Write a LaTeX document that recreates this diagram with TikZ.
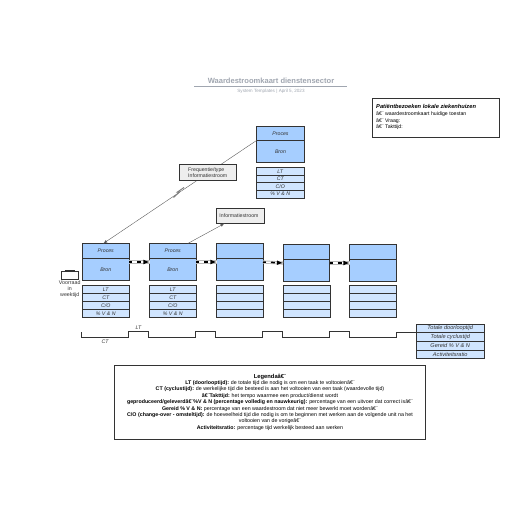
\documentclass[tikz,border=0pt]{standalone}
\usepackage{fontspec}
\setmainfont{Liberation Sans}
\usetikzlibrary{arrows,calc}
\definecolor{BoxClr}{RGB}{166, 206, 255}
\definecolor{RowClr}{RGB}{208, 229, 255}
\definecolor{EdgeClr}{RGB}{51, 51, 51}
\definecolor{InfoClr}{RGB}{238, 238, 238}
\definecolor{TitleClr}{RGB}{160, 166, 176}
\tikzset{
  boxbase/.style={draw=EdgeClr,line width=.8pt,inner sep=0pt,outer sep=0pt,anchor=north west,font=\fontsize{5.2}{6}\selectfont\itshape,text=EdgeClr},
  prochead/.style={boxbase,fill=BoxClr,minimum width=46.5pt,minimum height=15pt},
  procbron/.style={boxbase,fill=BoxClr,minimum width=46.5pt,minimum height=21.5pt},
  datarow/.style={boxbase,fill=RowClr,minimum width=46.5pt,minimum height=8pt},
  sumrow/.style={boxbase,fill=RowClr,minimum width=68.5pt,minimum height=8.7pt,font=\fontsize{5.6}{6}\selectfont\itshape},
  infobox/.style={boxbase,fill=InfoClr,align=left,font=\fontsize{5.2}{6.2}\selectfont},
  flowline/.style={draw=EdgeClr!80,line width=.4pt,-latex},
  pushline/.style={draw=gray!55,line width=3.2pt,
    postaction={draw=white,line width=1.4pt},
    postaction={draw=black,line width=1.5pt,dash pattern=on 3pt off 5pt on 4pt off 100pt},
    postaction={draw=black,line width=1.1pt,dash pattern=on 0pt off 15pt on 6pt,-latex}},
}
\begin{document}
\begin{tikzpicture}[x=1pt,y=-1pt]
\useasboundingbox (0,0) rectangle (516,516);

\node[font=\fontsize{7.55}{8}\selectfont\bfseries,text=TitleClr] (title) at (271,81) {Waardestroomkaart dienstensector};
\coordinate (ruleL) at (194,86.5);
\coordinate (ruleR) at (347,86.5);
\draw[color=TitleClr,line width=.5pt] (ruleL) -- (ruleR);
\node[font=\fontsize{4.6}{5}\selectfont,text=TitleClr] (sub) at (271,91) {System Templates \textbar{} April 5, 2023};

\node[draw=EdgeClr,line width=.7pt,anchor=north west,outer sep=0pt,minimum width=127pt,minimum height=39pt,inner sep=0pt] (note) at (372,98.5) {};
\node[anchor=north west,align=left,inner sep=0pt,font=\fontsize{5.2}{6.6}\selectfont] (notetext) at (376,104.5) {\textbf{\textit{\fontsize{5.7}{6.6}\selectfont Patiëntbezoeken lokale ziekenhuizen}}\\â€¨ waardestroomkaart huidige toestan\\â€¨ Vraag:\\â€¨ Takttijd:};

\node[prochead,minimum width=48pt,minimum height=14pt] (topHead) at (256.5,126.5) {Proces};
\node[procbron,minimum width=48pt,minimum height=22pt] (topBron) at (256.5,140.5) {Bron};
\node[datarow,minimum width=47.5pt,minimum height=8pt] (topLT) at (256.5,167.5) {LT};
\node[datarow,minimum width=47.5pt,minimum height=7pt] (topCT) at (256.5,175.5) {CT};
\node[datarow,minimum width=47.5pt,minimum height=7.5pt] (topCO) at (256.5,182.5) {C/O};
\node[datarow,minimum width=47.5pt,minimum height=8pt] (topVN) at (256.5,190) {\% V \& N};

\foreach \nm/\xx/\yy/\hd/\br in {p1/82.5/243.5/Proces/Bron,p2/149.5/243.5/Proces/Bron,p3/216.5/243.5//,p4/283/244.5//,p5/349.5/244.5//}{
  \node[prochead] (\nm head) at (\xx,\yy) {\hd};
  \node[procbron] (\nm bron) at (\nm head.south west) {\br};
}
\foreach \nm/\xx/\a/\b/\c/\d in {p1/82.5/LT/CT/C\slash O/\% V \& N,p2/149.5/LT/CT/C\slash O/\% V \& N,p3/216.5////,p4/283.5////,p5/349.5////}{
  \node[datarow] (\nm LT) at (\xx,285.5) {\a};
  \node[datarow] (\nm CT) at (\xx,293.5) {\b};
  \node[datarow] (\nm CO) at (\xx,301.5) {\c};
  \node[datarow,minimum height=7.5pt] (\nm VN) at (\xx,309.5) {\d};
}

\draw[flowline] (topBron.north west) -- ([xshift=-2.5pt]p1head.north);
\draw[color=gray,line width=1pt] (173.5,197.5) -- (179.5,192) -- (177.5,192) -- (184,187.5);

\node[infobox,minimum width=56.5pt,minimum height=16pt] (info1) at (179.5,164.5) {Frequentie/type\\Informatiestroom};
\node[infobox,minimum width=48pt,minimum height=15pt] (info2) at (216.5,208.5) {Informatiestroom\hspace{3pt}};
\draw[flowline] ([xshift=15pt]p2head.north) -- ([xshift=-16pt]info2.south);

\foreach \aa/\bb in {p1/p2,p2/p3,p3/p4,p4/p5}{
  \draw[pushline] ([yshift=-3.5pt]\aa bron.north east) -- ([yshift=-3.5pt]\bb bron.north west);
}

\node[draw=EdgeClr,line width=.7pt,fill=white,anchor=north west,outer sep=0pt,minimum width=16.5pt,minimum height=7.5pt,inner sep=0pt] (stock) at (61.5,271.8) {};
\draw[line width=1.2pt,color=EdgeClr] ([xshift=3pt,yshift=1pt]stock.north west) -- ([xshift=-3pt,yshift=1pt]stock.north east);
\node[below=1pt,align=center,font=\fontsize{5.3}{5.9}\selectfont,text=EdgeClr,inner sep=0pt] (stocktext) at (stock.south) {Voorraad\\in\\weektijd};

\coordinate (lineStart) at (81.5,332);
\node[sumrow] (sumLT) at (416,324) {Totale doorlooptijd};
\node[sumrow] (sumCT) at (416,332.7) {Totale cyclustijd};
\node[sumrow] (sumVN) at (416,341.4) {Gereid \% V \& N};
\node[sumrow] (sumAR) at (416,350.1) {Activiteitsratio};

\draw[color=EdgeClr,line width=.7pt] (lineStart) -- (81.5,337.3) -- (128.7,337.3) -- (128.7,331) -- (148.7,331) -- (148.7,337.3)
  -- (195.7,337.3) -- (195.7,331) -- (215.7,331) -- (215.7,337.3) -- (262.7,337.3) -- (262.7,331) -- (282.7,331) -- (282.7,337.3)
  -- (329.5,337.3) -- (329.5,331) -- (349.3,331) -- (349.3,337.3) -- (396.5,337.3) |- (sumCT.north west);

\node[font=\fontsize{5.2}{6}\selectfont\itshape,text=EdgeClr] (ltlabel) at (138.5,327.5) {LT};
\node[font=\fontsize{5.2}{6}\selectfont\itshape,text=EdgeClr] (ctlabel) at (105,341.5) {CT};

\node[draw=EdgeClr,line width=.7pt,anchor=north west,outer sep=0pt,minimum width=311pt,minimum height=74pt,inner sep=0pt] (legend) at (114.5,365) {};
\node[align=center,inner sep=0pt,font=\fontsize{5.3}{6.4}\selectfont] (legendtext) at (legend.center) {\textbf{\fontsize{5.8}{6.4}\selectfont Legendaâ€¨}\\
\textbf{LT (doorlooptijd):} de totale tijd die nodig is om een taak te voltooienâ€¨\\
\textbf{CT (cyclustijd):} de werkelijke tijd die besteed is aan het voltooien van een taak (waardevolle tijd)\\
\textbf{â€¨Takttijd:} het tempo waarmee een product/dienst wordt\\
\textbf{geproduceerd/geleverdâ€¨\%V \& N (percentage volledig en nauwkeurig):} percentage van een uitvoer dat correct isâ€¨\\
\textbf{Gereid \% V \& N:} percentage van een waardestroom dat niet meer bewerkt moet wordenâ€¨\\
\textbf{C/O (change-over - omsteltijd):} de hoeveelheid tijd die nodig is om te beginnen met werken aan de volgende unit na het\\
voltooien van de vorigeâ€¨\\
\textbf{Activiteitsratio:} percentage tijd werkelijk besteed aan werken};

\end{tikzpicture}
\end{document}
